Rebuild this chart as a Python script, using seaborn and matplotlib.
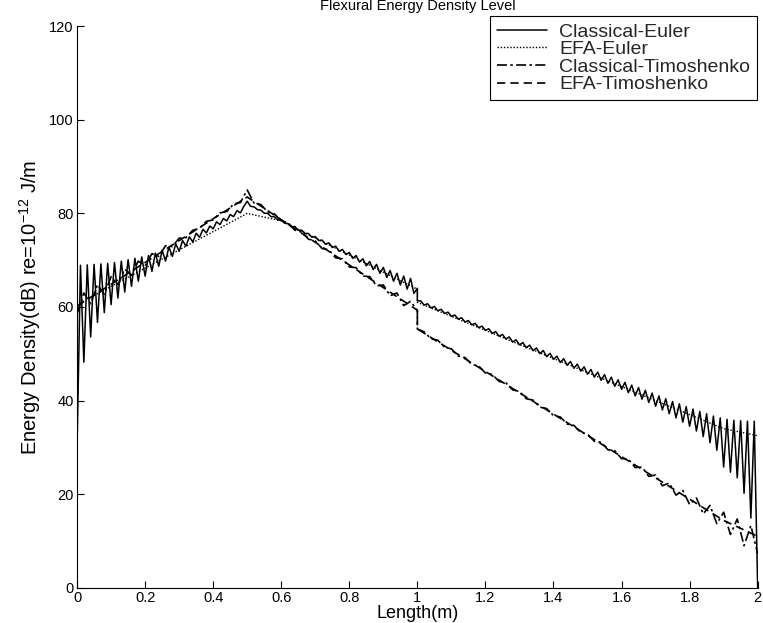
import numpy as np
import pandas as pd
import matplotlib
matplotlib.use("Agg")
import matplotlib.pyplot as plt
import seaborn as sns

# ---------------- data ----------------
series_names = ["Classical-Euler", "EFA-Euler", "Classical-Timoshenko", "EFA-Timoshenko"]

# Classical-Euler, sampled every 0.01 m
euler_x_a = np.round(np.arange(0.00, 0.5001, 0.01), 2)
euler_y_a = [30, 68.9, 48.2, 69.0, 53.6, 69.1, 56.7, 69.2, 58.8, 69.3,
             60.5, 69.5, 61.9, 69.8, 63.2, 70.1, 64.4, 70.4, 65.5, 70.7,
             66.6, 71.0, 67.6, 71.5, 68.7, 72.1, 69.8, 72.8, 70.8, 73.5,
             71.9, 74.2, 73.0, 75.0, 73.9, 75.75, 74.9, 76.6, 75.8, 77.3,
             76.7, 78.2, 77.6, 78.9, 78.4, 79.75, 79.3, 80.6, 80.1, 81.5,
             82.6]
euler_x_b = np.round(np.arange(0.51, 1.0001, 0.01), 2)
euler_y_b = [81.5, 81.4, 80.8, 80.7, 80.05, 80.0, 79.3, 79.3, 78.6, 78.55,
             77.9, 77.8, 77.1, 77.2, 76.4, 76.4, 75.7, 75.7, 74.9, 75.05,
             74.2, 74.3, 73.4, 73.7, 72.7, 73.0, 71.9, 72.3, 71.2, 71.65,
             70.4, 71.0, 69.6, 70.3, 68.8, 69.7, 68.0, 69.1, 67.2, 68.45,
             66.3, 67.8, 65.5, 67.2, 64.7, 66.6, 63.8, 66.1, 62.9, 64.0]
euler_x_c = np.round(np.arange(1.00, 2.0001, 0.01), 2)
euler_y_c = [61.3, 61.3, 60.4, 60.7, 59.8, 60.1, 59.2, 59.5, 58.6, 58.9,
             58.0, 58.3, 57.4, 57.7, 56.8, 57.1, 56.2, 56.5, 55.6, 55.9,
             55.0, 55.35, 54.35, 54.75, 53.75, 54.15, 53.15, 53.6, 52.5, 53.0,
             51.9, 52.4, 51.3, 51.85, 50.65, 51.25, 50.05, 50.7, 49.4, 50.1,
             48.8, 49.5, 48.15, 48.95, 47.55, 48.35, 46.9, 47.8, 46.3, 47.2,
             45.65, 46.65, 45.0, 46.1, 44.35, 45.55, 43.7, 45.0, 43.05, 44.45,
             42.4, 43.9, 41.7, 43.3, 41.0, 42.8, 40.3, 42.2, 39.6, 41.6,
             38.8, 41.0, 38.0, 40.4, 37.2, 39.8, 36.3, 39.3, 35.4, 38.7,
             34.5, 38.2, 33.5, 37.7, 32.3, 37.2, 31.0, 36.7, 29.4, 36.3,
             25.8, 36.0, 24.7, 35.8, 23.5, 35.7, 20.2, 35.6, 14.9, 35.6,
             0.0]

# EFA-Euler (smooth)
efa_euler_x = [0.0, 0.5, 0.6, 1.0, 1.0, 1.9, 2.0]
efa_euler_y = [60.5, 80.0, 78.4, 63.8, 61.0, 34.0, 32.5]

# Classical-Timoshenko, sampled every 0.02 m
timo_x_a = np.round(np.arange(0.00, 1.0001, 0.02), 2)
timo_y_a = [58.5, 63.0, 60.7, 64.8, 62.7, 66.5, 64.7, 68.1, 66.8, 69.8,
            68.8, 71.4, 70.8, 73.1, 72.9, 74.7, 74.8, 76.4, 76.8, 78.3,
            78.6, 80.1, 80.4, 82.0, 82.3, 85.0, 82.2, 81.9, 80.3, 79.9,
            78.35, 78.0, 76.4, 76.0, 74.5, 74.1, 72.5, 72.2, 70.5, 70.3,
            68.55, 68.4, 66.6, 66.5, 64.5, 64.7, 62.4, 63.0, 60.3, 61.2,
            59.25]
timo_x_b = np.round(np.arange(1.00, 2.0001, 0.02), 2)
timo_y_b = [55.3, 54.7, 53.2, 52.9, 51.4, 51.05, 49.5, 49.2, 47.7, 47.4,
            45.9, 45.6, 44.1, 43.8, 42.3, 41.95, 40.4, 40.1, 38.6, 38.3,
            36.8, 36.5, 35.0, 34.7, 33.2, 32.85, 31.3, 31.1, 29.5, 29.3,
            27.6, 27.5, 25.7, 25.8, 23.8, 24.1, 21.8, 22.4, 19.8, 20.8,
            17.8, 19.2, 15.8, 17.6, 13.7, 16.15, 11.4, 14.7, 9.0, 13.3,
            7.3]

# EFA-Timoshenko (smooth)
efa_timo_x = [0.0, 0.5, 1.0, 1.0, 1.9, 2.0]
efa_timo_y = [60.2, 83.5, 59.3, 55.3, 14.4, 11.0]

x_ticks = [0, 0.2, 0.4, 0.6, 0.8, 1.0, 1.2, 1.4, 1.6, 1.8, 2.0]
x_tick_labels = ["0", "0.2", "0.4", "0.6", "0.8", "1", "1.2", "1.4", "1.6", "1.8", "2"]
y_ticks = [0, 20, 40, 60, 80, 100, 120]

# ---------------- build tables ----------------
def frame(xs, ys, name):
    return pd.DataFrame({"x": np.asarray(xs, float), "y": np.asarray(ys, float), "series": name})

df_euler = frame(np.concatenate([euler_x_a, euler_x_b, euler_x_c]),
                 euler_y_a + euler_y_b + euler_y_c, series_names[0])
df_efa_euler = frame(efa_euler_x, efa_euler_y, series_names[1])
df_timo = frame(np.concatenate([timo_x_a, timo_x_b]), timo_y_a + timo_y_b, series_names[2])
df_efa_timo = frame(efa_timo_x, efa_timo_y, series_names[3])

# ---------------- style ----------------
sns.set_theme(style="white")
plt.rcParams["font.family"] = ["Liberation Sans", "DejaVu Sans"]
plt.rcParams["mathtext.fontset"] = "custom"
plt.rcParams["mathtext.rm"] = "Liberation Sans"
plt.rcParams["mathtext.it"] = "Liberation Sans:italic"
plt.rcParams["mathtext.bf"] = "Liberation Sans:bold"

fig = plt.figure(figsize=(7.63, 6.23), dpi=100)
ax = fig.add_axes([0.101, 0.0565, 0.892, 0.9015])

styles = {
    series_names[0]: dict(linestyle="-", linewidth=1.1),
    series_names[1]: dict(linestyle=(0, (1, 1.3)), linewidth=1.0),
    series_names[2]: dict(linestyle=(0, (6, 2, 1.5, 2)), linewidth=1.2),
    series_names[3]: dict(linestyle=(0, (5, 3)), linewidth=1.2),
}

for d in [df_euler, df_efa_euler, df_timo, df_efa_timo]:
    name = d["series"].iloc[0]
    sns.lineplot(data=d, x="x", y="y", ax=ax, color="black", sort=False,
                 estimator=None, label=name, **styles[name])

ax.set_xlim(0, 2)
ax.set_ylim(0, 120)
ax.set_xticks(x_ticks)
ax.set_xticklabels(x_tick_labels)
ax.set_yticks(y_ticks)
ax.tick_params(direction="in", length=5, width=0.8, colors="black",
               bottom=True, left=True, top=False, right=False, labelsize=10.5, pad=2.5)
sns.despine(ax=ax)
for s in ["left", "bottom"]:
    ax.spines[s].set_color("black")
    ax.spines[s].set_linewidth(0.8)

ax.set_title("Flexural Energy Density Level", fontsize=10.5, pad=11.5, color="black")
ax.set_xlabel("Length(m)", fontsize=13, labelpad=0, color="black")
ax.set_ylabel("Energy Density(dB) re=10$^{-12}$ J/m", fontsize=14.5, labelpad=4, color="black")

leg = ax.legend(loc="upper right", bbox_to_anchor=(0.992, 0.974),
                bbox_transform=fig.transFigure, frameon=True,
                fancybox=False, edgecolor="black", framealpha=1, fontsize=14,
                handlelength=2.6, borderpad=0.35, labelspacing=0.0, handletextpad=0.6,
                borderaxespad=0)
leg.get_frame().set_linewidth(0.8)

fig.savefig("out.png", dpi=100)
